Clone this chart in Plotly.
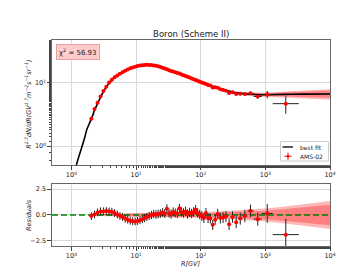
import numpy as np
import plotly.graph_objects as go

# ---------------- data ----------------
bin_edges = [1.92, 2.15, 2.40, 2.67, 2.97, 3.29, 3.64, 4.02, 4.43, 4.88, 5.37, 5.90, 6.47,
             7.09, 7.76, 8.48, 9.26, 10.1, 11.0, 12.0, 13.0, 14.1, 15.3, 16.6, 18.0, 19.5,
             21.1, 22.8, 24.7, 26.7, 28.8, 31.1, 33.5, 36.1, 38.9, 41.9, 45.1, 48.5, 52.2,
             56.1, 60.3, 64.8, 69.7, 74.9, 80.5, 86.5, 93.0, 100, 108, 116, 125, 135, 147,
             160, 175, 192, 211, 233, 259, 291, 330, 379, 441, 525, 660, 880, 1300, 3300]

flux = [2.72, 3.85, 4.85, 6.1, 7.45, 8.75, 10.15, 11.25, 12.3, 13.15, 14.0, 14.85, 15.6,
        16.3, 17.05, 17.65, 18.15, 18.55, 18.9, 19.1, 19.3, 19.4, 19.35, 19.25, 19.0,
        18.75, 18.35, 17.9, 17.45, 16.95, 16.55, 15.95, 15.55, 15.15, 14.8, 14.45, 14.15,
        13.65, 13.3, 12.95, 12.6, 12.2, 11.8, 11.45, 11.15, 10.8, 10.5, 10.2, 9.9, 9.65,
        9.3, 9.1, 8.5, 8.55, 8.4, 7.95, 7.75, 7.55, 6.95, 7.1, 6.7, 6.75, 6.7, 6.85, 6.1,
        6.6, 4.7]

flux_err = [0.1, 0.12, 0.14, 0.15, 0.16, 0.17, 0.18, 0.19, 0.2, 0.2, 0.2, 0.2, 0.2,
            0.2, 0.2, 0.2, 0.2, 0.2, 0.2, 0.2, 0.2, 0.2, 0.2, 0.2, 0.2,
            0.2, 0.2, 0.2, 0.2, 0.2, 0.2, 0.2, 0.2, 0.2, 0.2, 0.2, 0.2,
            0.2, 0.2, 0.2, 0.2, 0.2, 0.2, 0.2, 0.2, 0.2, 0.2, 0.22, 0.22, 0.22,
            0.23, 0.24, 0.25, 0.26, 0.27, 0.28, 0.29, 0.3, 0.32, 0.33, 0.35, 0.37, 0.4,
            0.42, 0.5, 0.9, 1.45]

resid = [-0.1, 0.05, 0.25, 0.35, 0.35, 0.38, 0.35, 0.32, 0.2, 0.05, -0.1, -0.2, -0.35,
         -0.45, -0.55, -0.6, -0.62, -0.58, -0.5, -0.4, -0.3, -0.2, -0.1, 0.0, 0.1,
         0.05, 0.1, 0.15, 0.25, 0.15, 0.6, 0.2, 0.1, 0.3, 0.2, 0.15, 0.65,
         0.3, 0.2, 0.35, 0.1, 0.25, 0.15, 0.3, 0.5, 0.2, 0.05, -0.1, -0.3, 0.2,
         -0.3, -0.35, -0.95, -0.45, 0.1, -0.3, -0.25, -0.15, -0.9, -0.2, -0.7, -0.35, -0.1,
         0.4, -0.4, 0.15, -1.9]

resid_err = [0.38, 0.38, 0.38, 0.38, 0.38, 0.38, 0.38, 0.38, 0.38, 0.38, 0.38, 0.38, 0.38,
             0.38, 0.38, 0.38, 0.38, 0.38, 0.38, 0.4, 0.4, 0.4, 0.4, 0.4, 0.4,
             0.42, 0.42, 0.42, 0.42, 0.42, 0.44, 0.44, 0.44, 0.44, 0.44, 0.45, 0.45,
             0.45, 0.45, 0.45, 0.45, 0.45, 0.45, 0.46, 0.46, 0.46, 0.46, 0.47, 0.47, 0.47,
             0.48, 0.48, 0.5, 0.5, 0.5, 0.52, 0.52, 0.53, 0.55, 0.55, 0.57, 0.58, 0.6,
             0.6, 0.64, 0.9, 1.55]

fit_R = [1.19, 1.3, 1.44, 1.6, 1.72, 1.9, 2.05, 2.3, 2.6, 2.9, 3.2, 3.5, 3.9, 4.4, 5.0,
         5.6, 6.3, 7.0, 8.0, 9.0, 10, 11.5, 13, 15, 17, 20, 25, 31, 40, 50, 70, 100, 130,
         160, 200, 260, 350, 500, 700, 1000, 2000, 4000, 10000]
fit_V = [0.5, 0.68, 0.95, 1.35, 1.8, 2.3, 2.75, 3.8, 5.0, 6.3, 7.6, 8.8, 10.2, 11.6, 12.9,
         14.0, 15.1, 16.0, 17.1, 17.9, 18.5, 19.0, 19.3, 19.4, 19.2, 18.7, 17.5, 16.2, 14.8,
         13.6, 11.9, 10.4, 9.4, 8.7, 8.1, 7.5, 7.0, 6.7, 6.55, 6.5, 6.6, 6.65, 6.7]

band_R = [1.8, 3, 10, 30, 100, 300, 1000, 3000, 10000]
band_outer = [0.015, 0.02, 0.025, 0.025, 0.03, 0.05, 0.08, 0.13, 0.19]
band_inner = [0.01, 0.012, 0.015, 0.015, 0.02, 0.035, 0.055, 0.09, 0.13]
rband_outer = [0.06, 0.12, 0.22, 0.22, 0.26, 0.4, 0.62, 0.95, 1.35]
rband_inner = [0.04, 0.08, 0.14, 0.14, 0.17, 0.27, 0.42, 0.68, 1.0]

x_ticks = [1, 10, 100, 1000, 10000]
x_ticktext = ["10<sup>0</sup>", "10<sup>1</sup>", "10<sup>2</sup>", "10<sup>3</sup>", "10<sup>4</sup>"]
y_ticks = [1, 10]
y_ticktext = ["10<sup>0</sup>", "10<sup>1</sup>"]
r_ticks = [-2.5, 0, 2.5]
r_ticktext = ["\u22122.5", "0.0", "2.5"]

# ---------------- derived ----------------
lo = np.array(bin_edges[:-1])
hi = np.array(bin_edges[1:])
Rc = np.sqrt(lo * hi)
fR = np.array(fit_R)
fV = np.array(fit_V)
bx = fR[fR >= band_R[0]]
bm = fV[fR >= band_R[0]]
lb = np.log10(band_R)
def rel(arr):
    return np.interp(np.log10(bx), lb, arr)

FONT = "DejaVu Sans"
fig = go.Figure()

def add_band(xs, low, up, color, xa, ya):
    fig.add_trace(go.Scatter(x=xs, y=low, mode="lines", line=dict(width=0), showlegend=False,
                             hoverinfo="skip", xaxis=xa, yaxis=ya))
    fig.add_trace(go.Scatter(x=xs, y=up, mode="lines", line=dict(width=0), fill="tonexty",
                             fillcolor=color, showlegend=False, hoverinfo="skip", xaxis=xa, yaxis=ya))

add_band(bx, bm * (1 - rel(band_outer)), bm * (1 + rel(band_outer)), "rgba(255,0,0,0.28)", "x", "y")
add_band(bx, bm * (1 - rel(band_inner)), bm * (1 + rel(band_inner)), "rgba(255,0,0,0.30)", "x", "y")

fig.add_trace(go.Scatter(x=fit_R, y=fit_V, mode="lines", line=dict(color="black", width=1.6, shape="spline"),
                         showlegend=False, xaxis="x", yaxis="y"))

fig.add_trace(go.Scatter(
    x=Rc, y=flux, mode="markers", showlegend=False,
    marker=dict(color="red", size=4),
    error_y=dict(type="data", array=flux_err, color="#222", thickness=1, width=0),
    error_x=dict(type="data", symmetric=False, array=hi - Rc, arrayminus=Rc - lo, color="#222", thickness=1, width=0),
    xaxis="x", yaxis="y"))

# residual panel
add_band(bx, -rel(rband_outer), rel(rband_outer), "rgba(255,0,0,0.28)", "x2", "y2")
add_band(bx, -rel(rband_inner), rel(rband_inner), "rgba(255,0,0,0.30)", "x2", "y2")

fig.add_trace(go.Scatter(x=[0.5, 10000], y=[0, 0], mode="lines", showlegend=False,
                         line=dict(color="#008000", width=1.5, dash="6px,3px"), xaxis="x2", yaxis="y2"))

fig.add_trace(go.Scatter(
    x=Rc, y=resid, mode="markers", showlegend=False,
    marker=dict(color="red", size=4),
    error_y=dict(type="data", array=resid_err, color="#222", thickness=1, width=0),
    error_x=dict(type="data", symmetric=False, array=hi - Rc, arrayminus=Rc - lo, color="#222", thickness=1, width=0),
    xaxis="x2", yaxis="y2"))

axis_common = dict(showline=True, mirror=True, linecolor="#666", linewidth=1.2,
                   gridcolor="#d9d9d9", gridwidth=1, ticks="outside", ticklen=3.5, tickcolor="#444",
                   tickfont=dict(family=FONT, size=6.5, color="#222"), zeroline=False)
minor_ticks = dict(ticks="outside", ticklen=2, tickcolor="#444", showgrid=False)

xrange = [np.log10(0.5), 4]
fig.update_layout(
    width=357, height=268,
    margin=dict(l=44, r=35, t=32, b=30),
    paper_bgcolor="white", plot_bgcolor="white",
    font=dict(family=FONT, color="#222"),
    title=dict(text="Boron (Scheme II)", x=0.513, xanchor="center", y=0.903, yanchor="middle",
               font=dict(family=FONT, size=8.5, color="#222")),
    xaxis=dict(type="log", range=xrange, domain=[0, 1], anchor="y",
               tickvals=x_ticks, ticktext=x_ticktext, minor=minor_ticks, **axis_common),
    yaxis=dict(type="log", range=[np.log10(0.5), np.log10(48)], domain=[0.393, 1], anchor="x",
               tickvals=y_ticks, ticktext=y_ticktext, minor=minor_ticks, **axis_common),
    xaxis2=dict(type="log", range=xrange, domain=[0, 1], anchor="y2",
                tickvals=x_ticks, ticktext=x_ticktext, minor=minor_ticks, **axis_common),
    yaxis2=dict(range=[-3, 3], domain=[0, 0.301], anchor="x2",
                tickvals=r_ticks, ticktext=r_ticktext, **axis_common),
    showlegend=False,
)

# ---- hand-drawn legend (paper coords from pixel positions) ----
def px_x(p):
    return (p - 44) / 278.0
def px_y(p):
    return (238 - p) / 206.0

fig.add_shape(type="rect", xref="paper", yref="paper", x0=px_x(272.5), x1=px_x(320.5),
              y0=px_y(153), y1=px_y(133.5), line=dict(color="#cccccc", width=1), fillcolor="white")
fig.add_shape(type="line", xref="paper", yref="paper", x0=px_x(274.5), x1=px_x(285),
              y0=px_y(139), y1=px_y(139), line=dict(color="#333", width=1.6))
fig.add_shape(type="line", xref="paper", yref="paper", x0=px_x(276.5), x1=px_x(283.5),
              y0=px_y(148.3), y1=px_y(148.3), line=dict(color="red", width=1))
fig.add_shape(type="line", xref="paper", yref="paper", x0=px_x(280), x1=px_x(280),
              y0=px_y(144.8), y1=px_y(151.8), line=dict(color="red", width=1))
fig.add_shape(type="circle", xref="paper", yref="paper", x0=px_x(278.8), x1=px_x(281.2),
              y0=px_y(149.5), y1=px_y(147.1), line=dict(color="red", width=0), fillcolor="red")
fig.add_annotation(text="best fit", xref="paper", yref="paper", x=px_x(290), y=px_y(139),
                   xanchor="left", yanchor="middle", showarrow=False,
                   font=dict(family=FONT, size=6, color="#222"))
fig.add_annotation(text="AMS-02", xref="paper", yref="paper", x=px_x(290), y=px_y(148.3),
                   xanchor="left", yanchor="middle", showarrow=False,
                   font=dict(family=FONT, size=6, color="#222"))

fig.add_annotation(text="\u03c7<sup>2</sup> = 56.93", xref="paper", yref="paper",
                   x=0.0935, y=0.942, xanchor="center", yanchor="middle", showarrow=False,
                   font=dict(family=FONT, size=7, color="#222"),
                   bgcolor="#ffcccc", bordercolor="#e8a0a0", borderwidth=1, borderpad=2)
fig.add_annotation(text="<i>R<sup>2.7</sup>dN/dR(GV<sup>1.7</sup>m<sup>\u22122</sup>s<sup>\u22121</sup>sr<sup>\u22121</sup>)</i>",
                   xref="paper", yref="paper", x=-0.083, y=0.69, xanchor="center", yanchor="middle",
                   textangle=-90, showarrow=False, font=dict(family=FONT, size=6.5, color="#222"))
fig.add_annotation(text="<i>Residuals</i>", xref="paper", yref="paper", x=-0.083, y=0.15,
                   xanchor="center", yanchor="middle", textangle=-90, showarrow=False,
                   font=dict(family=FONT, size=6.5, color="#222"))
fig.add_annotation(text="<i>R[GV]</i>", xref="paper", yref="paper", x=0.5, y=-0.085,
                   xanchor="center", yanchor="middle", showarrow=False,
                   font=dict(family=FONT, size=6.5, color="#222"))

fig.write_html("out.html")
